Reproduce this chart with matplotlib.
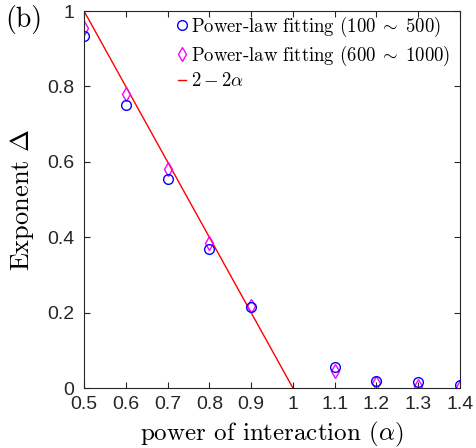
import matplotlib

matplotlib.use("Agg")
import matplotlib.pyplot as plt
import numpy as np

alpha = [0.5, 0.6, 0.7, 0.8, 0.9, 1.1, 1.2, 1.3, 1.4]
delta_short = [0.935, 0.75, 0.555, 0.37, 0.215, 0.055, 0.018, 0.015, 0.008]
delta_long = [0.955, 0.78, 0.58, 0.385, 0.218, 0.045, 0.012, 0.005, 0.003]
line_alpha = [0.5, 1.0]
xticks = [0.5, 0.6, 0.7, 0.8, 0.9, 1, 1.1, 1.2, 1.3, 1.4]
yticks = [0, 0.2, 0.4, 0.6, 0.8, 1]

plt.rcParams["mathtext.fontset"] = "cm"
plt.rcParams["axes.unicode_minus"] = False
serif = "cmr10"

fig = plt.figure(figsize=(4.76, 4.48), dpi=100)
ax = fig.add_axes([84 / 476, 60 / 448, 376 / 476, 377 / 448])

la = np.array(line_alpha)
ax.plot(la, 2 - 2 * la, color="red", lw=1, label=r"$2-2\alpha$", zorder=1)
ax.plot(alpha, delta_short, "o", mfc="none", mec="blue", ms=7, mew=1,
        label=r"Power-law fitting $(100\;\sim\;500)$", zorder=3)
ax.plot(alpha, delta_long, "d", mfc="none", mec="magenta", ms=7, mew=1,
        label=r"Power-law fitting $(600\;\sim\;1000)$", zorder=2)

ax.set_xlim(0.5, 1.4)
ax.set_ylim(0, 1)
ax.set_xticks(xticks)
ax.set_yticks(yticks)
ax.set_xticklabels([f"{t:g}" for t in xticks], family="Liberation Sans", fontsize=14)
ax.set_yticklabels([f"{t:g}" for t in yticks], family="Liberation Sans", fontsize=14)
ax.tick_params(direction="in", top=True, right=True, length=4, width=0.8, colors="#262626")
ax.tick_params(axis="x", pad=6)
ax.tick_params(axis="y", pad=7)
for s in ax.spines.values():
    s.set_linewidth(0.8)
    s.set_color("#262626")

ax.set_xlabel(r"power of interaction ($\alpha$)", family=serif, fontsize=18, labelpad=5)
ax.set_ylabel(r"Exponent $\Delta$", family=serif, fontsize=19, labelpad=8)

handles, labels = ax.get_legend_handles_labels()
order = [1, 2, 0]
leg = ax.legend([handles[i] for i in order], [labels[i] for i in order],
                loc="upper right", bbox_to_anchor=(1.0, 1.015), frameon=False,
                prop={"family": serif, "size": 13.5},
                handlelength=0.4, handletextpad=0.3, borderaxespad=0.1, labelspacing=0.25)

fig.text(5 / 476, 1 - 20 / 448, "(b)", family=serif, fontsize=20, va="center")

fig.savefig("out.png", dpi=100)
